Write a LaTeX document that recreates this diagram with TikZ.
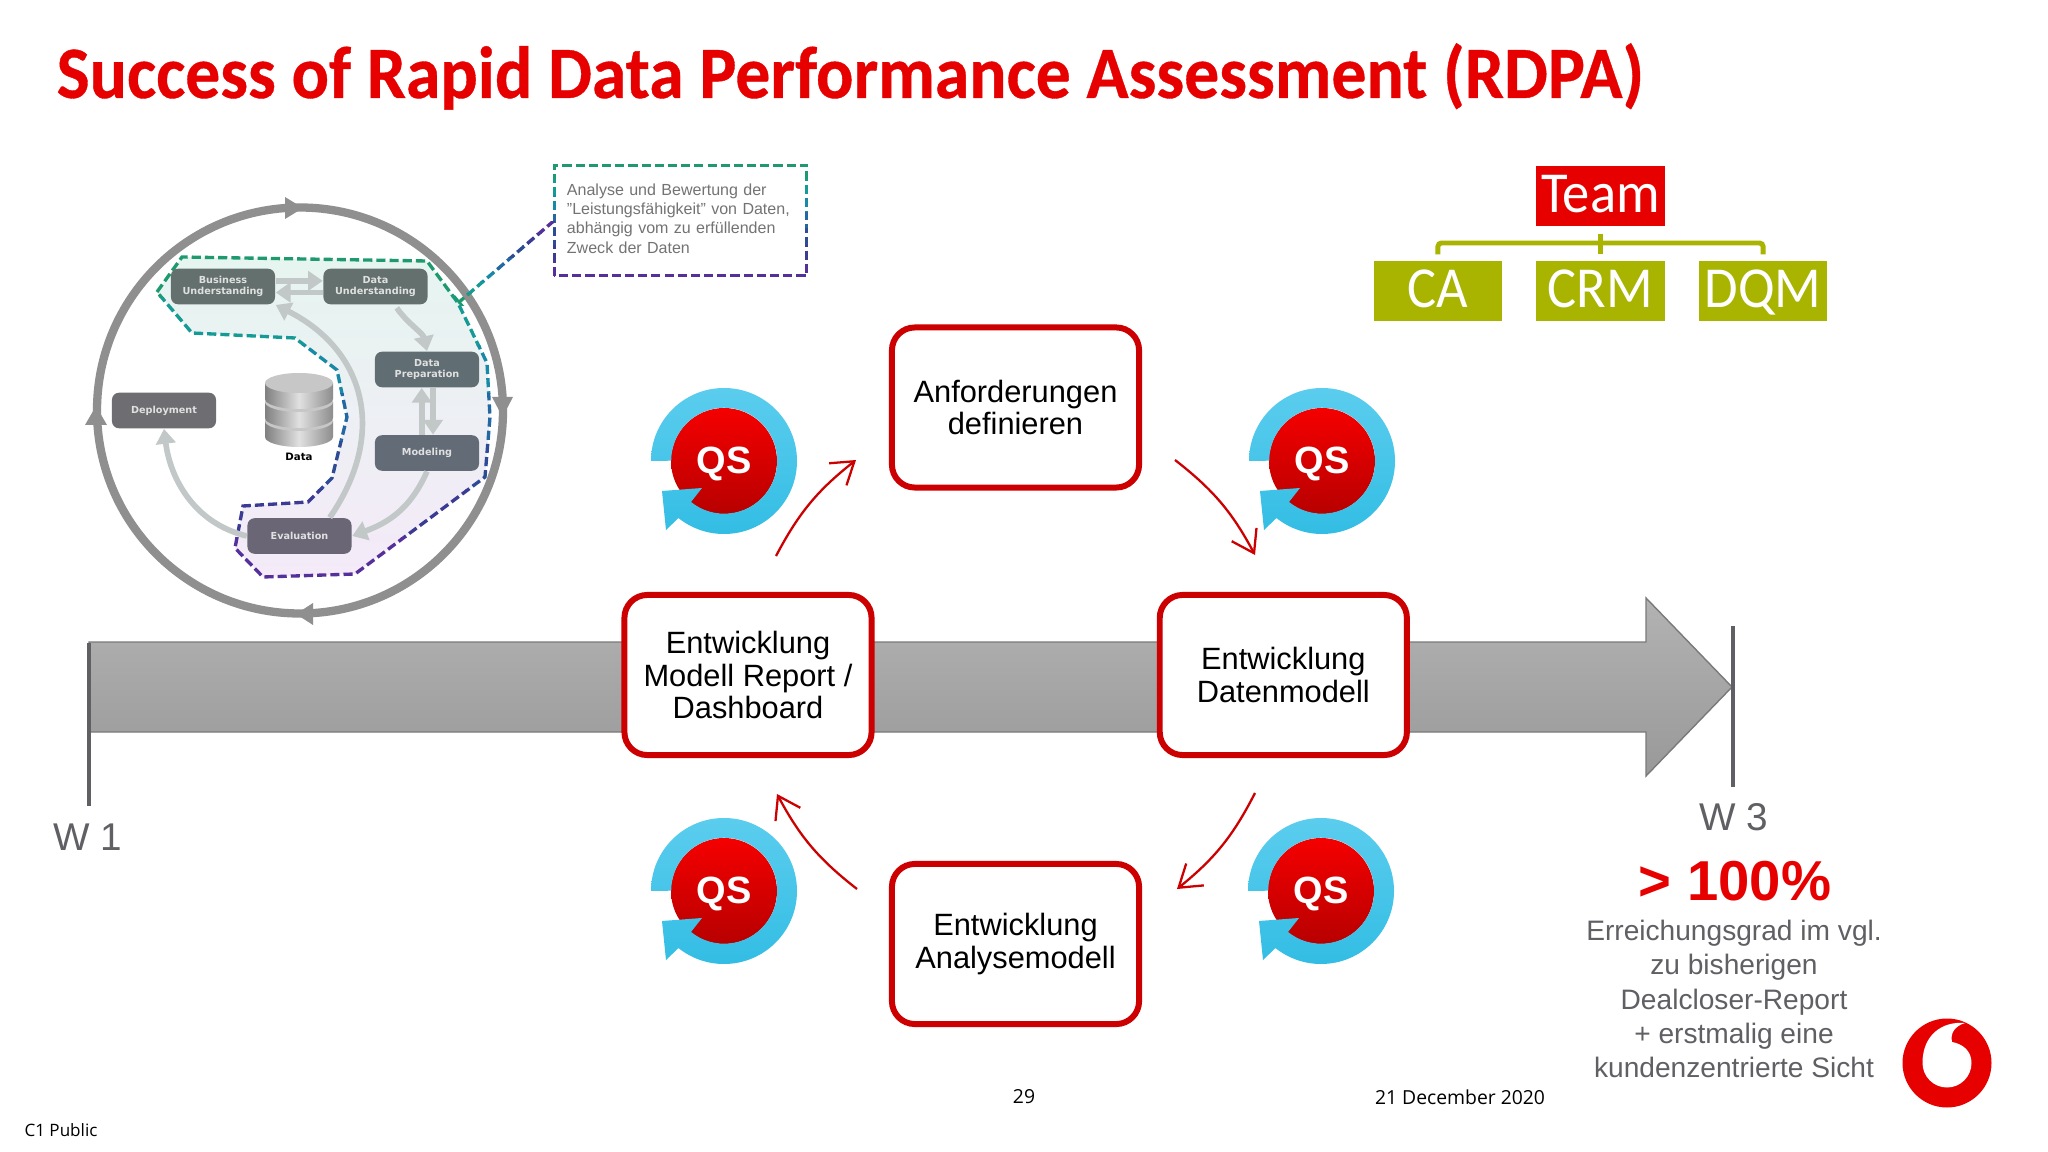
\documentclass[tikz,border=0pt]{standalone}
\usepackage{fontspec}
\usepackage{graphicx}
\setmainfont{Liberation Sans}
\newfontfamily\slidefont[BoldFeatures={FakeBold=0.5}]{Carlito}
\newfontfamily\footfont{Open Sans}
\newfontfamily\crispfont{DejaVu Sans}
\usetikzlibrary{arrows.meta}

\definecolor{vfred}{HTML}{E60000}
\definecolor{boxred}{HTML}{CC0000}
\definecolor{teamgreen}{HTML}{A8B400}
\definecolor{slategrey}{HTML}{5F5F64}
\definecolor{flowgrey}{HTML}{C2C7C7}
\definecolor{ringtop}{HTML}{5BCDEE}
\definecolor{ringbot}{HTML}{33BDE4}
\definecolor{dashA}{HTML}{1F9A6F}
\definecolor{dashB}{HTML}{169A96}
\definecolor{dashC}{HTML}{1889A6}
\definecolor{dashD}{HTML}{2468A3}
\definecolor{dashE}{HTML}{2E4C96}
\definecolor{dashF}{HTML}{3B3B94}
\definecolor{dashG}{HTML}{56309A}

% dashed outline whose colour runs in bands along y
\newcommand{\dashbands}[3]{%
  \foreach \col [count=\k] in {dashA,dashB,dashC,dashD,dashE,dashF,dashG}{
    \begin{scope}
      \clip (0,{#1+(\k-1)*#2}) rectangle (2048,{#1+\k*#2});
      \draw[dashline, draw=\col] #3;
    \end{scope}
  }%
}

% QS badge, one for each step
\tikzset{
  qsmark/.pic={
    \shade[top color=red!96!black, bottom color=red!72!black] (0,0) circle[radius=53];
    \shade[top color=ringtop, bottom color=ringbot]
      (-73,0) arc[radius=73, start angle=180, end angle=488.6]
      -- (-58,69) -- (-62,30) -- (-22,27) -- (-33,41)
      arc[radius=53, start angle=488.8, end angle=180] -- cycle;
    \node[text=white, font=\fontsize{10.8}{12}\selectfont\bfseries] (-label) at (0,3) {QS};
  }
}

\begin{document}
\begin{tikzpicture}[x=0.01cm, y=-0.01cm]

% Define the node styles
\tikzstyle{stepbox}=[draw=boxred, line width=1.7pt, rounded corners=6.5pt, fill=white, minimum width=2.47cm, minimum height=1.6cm, align=center, inner sep=0pt, font=\fontsize{8.76}{9.3}\selectfont]
\tikzstyle{teambox}=[minimum width=1.28cm, minimum height=0.6cm, inner sep=0pt, text=white, text height=11pt, text depth=1.4pt, font=\slidefont\fontsize{16.5}{18}\selectfont]
\tikzstyle{crispbox}=[rounded corners=2pt, minimum width=1.04cm, minimum height=0.355cm, inner sep=0pt, align=center, text=white!88!black, font=\crispfont\fontsize{2.75}{3.3}\selectfont\bfseries]
\tikzstyle{dashline}=[line width=0.95pt, dash pattern=on 2.6pt off 1.15pt]
\tikzstyle{flow}=[flowgrey, line width=1.6pt, -{Triangle[length=4.2pt, width=5.5pt]}]
\tikzstyle{redarrow}=[-{Straight Barb[length=6pt, width=8pt]}, boxred, line width=0.65pt]
\tikzstyle{teamline}=[teamgreen, line width=1.4pt]
\tikzstyle{grey text}=[text=slategrey, align=center]
\tikzstyle{foot}=[font=\footfont\fontsize{5.5}{6.5}\selectfont]

\useasboundingbox (0,0) rectangle (2048,1152);
\fill[white] (0,0) rectangle (2048,1152);

% Title
\node[anchor=base west, inner sep=0pt, text=vfred, font=\slidefont\fontsize{21}{24}\selectfont\bfseries] (title) at (56,98) {\scalebox{0.943}[1]{Success of Rapid Data Performance Assessment (RDPA)}};

% Timeline arrow
\shade[top color=black!30, bottom color=black!40, draw=black!52, line width=0.4pt]
  (89,642) -- (1646,642) -- (1646,598) -- (1732,687) -- (1646,776) -- (1646,732) -- (89,732) -- cycle;
\coordinate (w1top) at (89,643);
\coordinate (w1end) at (89,806);
\coordinate (w3top) at (1733,626);
\coordinate (w3end) at (1733,787);
\draw[slategrey, line width=0.9pt] (w1top) -- (w1end);
\draw[slategrey, line width=0.9pt] (w3top) -- (w3end);
\node[grey text, font=\fontsize{11}{13}\selectfont] (w1) at (88,837) {W 1};
\node[grey text, font=\fontsize{11}{13}\selectfont] (w3) at (1734,817) {W 3};

% Result text
\node[text=vfred, font=\fontsize{16}{18}\selectfont\bfseries] (percent) at (1735,881) {> 100\%};
\node[grey text, font=\fontsize{8}{9.7}\selectfont] (result) at (1734,999) {Erreichungsgrad im vgl.\\zu bisherigen\\Dealcloser-Report\\+ erstmalig eine\\kundenzentrierte Sicht};

% Process steps
\node[stepbox] (anf) at (1015.5,407.5) {Anforderungen\\definieren};
\node[stepbox] (report) at (748,675) {Entwicklung\\Modell Report /\\Dashboard};
\node[stepbox, right of=report, node distance=5.35cm] (daten) {Entwicklung\\Datenmodell};
\node[stepbox] (analyse) at (1015.5,944) {Entwicklung\\Analysemodell};

% QS badges
\pic (qsa) at (724,461) {qsmark};
\pic (qsb) at (1322,461) {qsmark};
\pic (qsc) at (724,891) {qsmark};
\pic (qsd) at (1321,891) {qsmark};

% Loop arrows
\coordinate (loopa) at (776,556);
\coordinate (loopb) at (856,460);
\coordinate (loopc) at (1175,460);
\coordinate (loopd) at (1255,555);
\coordinate (loope) at (1255,793);
\coordinate (loopf) at (1177,889);
\coordinate (loopg) at (857,889);
\coordinate (looph) at (777,794);
\path[redarrow] (loopa) edge[bend left=12] (loopb)
          (loopc) edge[bend left=12] (loopd)
          (loope) edge[bend left=12] (loopf)
          (loopg) edge[bend left=12] (looph);

% Team tree
\node[teambox, fill=vfred] (team) at (1600.5,196) {\scalebox{0.94}[1]{Team}};
\node[teambox, fill=teamgreen, below of=team, node distance=0.95cm] (crm) {\scalebox{0.94}[1]{CRM}};
\node[teambox, fill=teamgreen, left of=crm, node distance=1.625cm] (ca) {\scalebox{0.94}[1]{CA}};
\node[teambox, fill=teamgreen, right of=crm, node distance=1.625cm] (dqm) {\scalebox{0.94}[1]{DQM}};
\coordinate (teambar) at (1600.5,243);
\draw[teamline, shorten <=1.7pt, shorten >=1.7pt, rounded corners=1pt] (ca.north) |- (teambar) -| (dqm.north);
\draw[teamline, shorten <=2pt, shorten >=1.7pt] (team.south) -- (crm.north);

% Process model: tinted region
\definecolor{tinttop}{HTML}{E6F5F0}
\definecolor{tintmid}{HTML}{E6F0FA}
\definecolor{tintbot}{HTML}{F4EAF8}
\def\regionpath{(157,292) -- (182,257) -- (427,261) -- (458,303) -- (487,363) -- (490,417) -- (485,477) -- (355,574) -- (263,577) -- (235,548) -- (243,506) -- (308,502) -- (332,478) -- (347,417) -- (337,370) -- (295,338) -- (192,333) -- cycle}
\shade[top color=tinttop, middle color=tintmid, bottom color=tintbot] \regionpath;

% Process model: outer circle
\draw[black!44, line width=2.36pt] (300,410.5) circle[radius=203];
\fill[black!44] (285,197) -- (303,208) -- (285,219) -- cycle;
\fill[black!44] (492,397) -- (513,397) -- (502.5,417) -- cycle;
\fill[black!44] (313,603) -- (313,625) -- (296,614) -- cycle;
\fill[black!44] (85,425) -- (107,425) -- (96,406) -- cycle;

\dashbands{250}{48}{\regionpath}

% Process model: boxes
\definecolor{crispa}{HTML}{63706E}
\definecolor{crispb}{HTML}{606E73}
\definecolor{crispc}{HTML}{626B76}
\definecolor{crispd}{HTML}{6A6675}
\definecolor{crispe}{HTML}{6E6E72}
\node[crispbox, fill=crispa] (bu) at (223,286.5) {Business\\Understanding};
\node[crispbox, fill=crispa] (du) at (375.5,286.5) {Data\\Understanding};
\node[crispbox, fill=crispb] (dp) at (427,369.5) {Data\\Preparation};
\node[crispbox, fill=crispc] (model) at (427,453) {Modeling};
\node[crispbox, fill=crispd] (evalu) at (299.5,536) {Evaluation};
\node[crispbox, fill=crispe] (deploy) at (164,410.5) {Deployment};

% Process model: arrows
\draw[flow] ([yshift=1.6pt]bu.east) -- ([yshift=1.6pt]du.west);
\draw[flow] ([yshift=-1.7pt]du.west) -- ([yshift=-1.7pt]bu.east);
\draw[flow, shorten <=1pt] ([xshift=5.5pt]du.south) .. controls (407,323) and (423,333) .. (dp.north);
\draw[flow] ([xshift=-1.5pt]dp.south |- model.north) -- ([xshift=-1.5pt]dp.south);
\draw[flow] ([xshift=1.7pt]dp.south) -- ([xshift=1.7pt]model.north);
\draw[flow] (model.south) .. controls (410,510) and (387,523) .. (evalu.east);
\draw[flow] ([xshift=8.6pt]evalu.north) .. controls (388,433) and (365,350) .. (bu.south east);
\draw[flow] (evalu.west) .. controls (193,523) and (170,477) .. (deploy.south);

% Data cylinder
\foreach \ty in {421,402,383}{
  \shade[left color=black!50, right color=black!45, middle color=black!12]
    (265,\ty) -- (265,\ty+16) arc[x radius=34, y radius=10, start angle=180, end angle=0] -- (333,\ty) -- cycle;
  \fill[black!22] (299,\ty) ellipse[x radius=34, y radius=10];
}
\node[font=\crispfont\fontsize{2.9}{3.4}\selectfont\bfseries] (datalabel) at (299,457) {Data};

% Explanation box
\node[inner sep=0pt, minimum width=2.51cm, minimum height=1.09cm, text width=2.27cm, align=left, text=black!55, font=\fontsize{4.56}{5.5}\selectfont] (callout) at (680.5,220.5) {Analyse und Bewertung der\\"Leistungsfähigkeit" von Daten,\\abhängig vom zu erfüllenden\\Zweck der Daten\rule[-1.2pt]{0pt}{0pt}};
\dashbands{163}{16.5}{(callout.south west) rectangle (callout.north east)}
\coordinate (regionmark) at (458,303);
\dashbands{306}{-12}{[{-{Bar[width=4.5pt, line width=0.8pt]}}] (callout.west) -- (regionmark)}

% Logo
\begin{scope}[shift={(1947,1063)}]
  \fill[vfred] (0,0) circle[radius=44.5];
  \fill[white] (18,-40) .. controls (-5,-42) and (-24.5,-28) .. (-24.5,0)
    arc[radius=24.5, start angle=180, end angle=0]
    .. controls (24.5,-12) and (16,-19) .. (5,-21)
    .. controls (3,-30) and (8,-37) .. (18,-40);
\end{scope}

% Footer
\node[foot] (pageno) at (1024,1097) {29};
\node[foot] (datum) at (1460,1097) {21 December 2020};
\node[foot, font=\footfont\fontsize{4.85}{6}\selectfont] (public) at (61,1130) {C1 Public};

\end{tikzpicture}
\end{document}
